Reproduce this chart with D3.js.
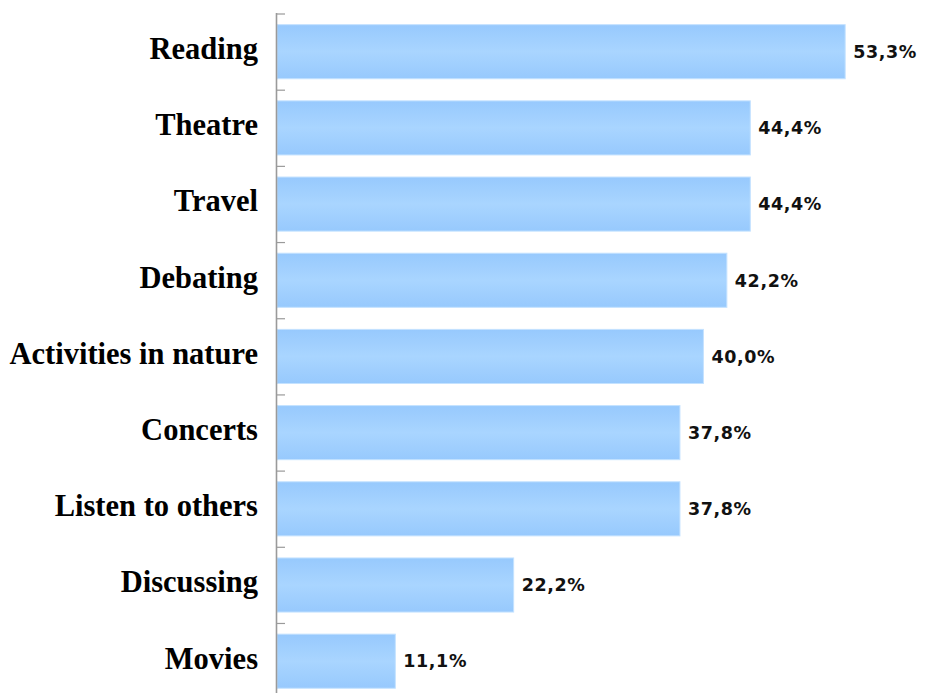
<!DOCTYPE html>
<html>
<head>
<meta charset="utf-8">
<script src="https://cdn.jsdelivr.net/npm/d3@7"></script>
<style>
  html, body { margin: 0; padding: 0; background: #fff; }
  svg { display: block; }
</style>
</head>
<body>
<svg id="chart" width="925" height="693"></svg>
<script>
// Share of respondents naming each activity
const categories = ["Reading", "Theatre", "Travel", "Debating", "Activities in nature",
                    "Concerts", "Listen to others", "Discussing", "Movies"];
const values = [53.3, 44.4, 44.4, 42.2, 40.0, 37.8, 37.8, 22.2, 11.1];
const valueLabels = ["53,3%", "44,4%", "44,4%", "42,2%", "40,0%", "37,8%", "37,8%", "22,2%", "11,1%"];

const svg = d3.select("#chart");
const axisX = 277;
const axisTop = 14;
const step = 76.1;

const x = d3.scaleLinear().domain([0, 10]).range([axisX, axisX + 106.6]);
const y = d3.scaleBand()
  .domain(categories)
  .range([axisTop, axisTop + step * categories.length])
  .paddingInner(0.29)
  .paddingOuter(0.14);

// Vertical gradient for the bars
const defs = svg.append("defs");
const grad = defs.append("linearGradient")
  .attr("id", "barGrad").attr("x1", 0).attr("y1", 0).attr("x2", 0).attr("y2", 1);
grad.append("stop").attr("offset", "0%").attr("stop-color", "#97c9fd");
grad.append("stop").attr("offset", "50%").attr("stop-color", "#a9d5ff");
grad.append("stop").attr("offset", "100%").attr("stop-color", "#97c9fd");

// Bars
svg.append("g").selectAll("rect")
  .data(values)
  .join("rect")
  .attr("x", x(0))
  .attr("y", (d, i) => y(categories[i]))
  .attr("width", d => x(d) - x(0))
  .attr("height", y.bandwidth())
  .attr("fill", "url(#barGrad)")
  .attr("stroke", "#c4e2ff")
  .attr("stroke-width", 1);

// Value labels
svg.append("g").selectAll("text")
  .data(values)
  .join("text")
  .attr("x", d => x(d) + 8)
  .attr("y", (d, i) => y(categories[i]) + y.bandwidth() / 2)
  .attr("dy", "0.36em")
  .attr("font-family", "DejaVu Sans, sans-serif")
  .attr("font-weight", "bold")
  .attr("font-size", 17.5)
  .attr("letter-spacing", 0.6)
  .attr("fill", "#111")
  .text((d, i) => valueLabels[i]);

// Category axis: line with ticks between bands, pointing into the plot
const axis = svg.append("g");
axis.append("line")
  .attr("x1", axisX - 0.5).attr("x2", axisX - 0.5)
  .attr("y1", axisTop - 1).attr("y2", 693)
  .attr("stroke", "#9a9a9a").attr("stroke-width", 1.6);
axis.selectAll("line.tick")
  .data(categories)
  .join("line")
  .attr("class", "tick")
  .attr("x1", axisX - 0.5).attr("x2", axisX + 8)
  .attr("y1", d => y(d) - y.step() * y.paddingOuter())
  .attr("y2", d => y(d) - y.step() * y.paddingOuter())
  .attr("stroke", "#9a9a9a").attr("stroke-width", 1.2);

// Category labels
axis.selectAll("text")
  .data(categories)
  .join("text")
  .attr("x", axisX - 19)
  .attr("y", d => y(d) + y.bandwidth() / 2)
  .attr("dy", "0.24em")
  .attr("text-anchor", "end")
  .attr("font-family", "Liberation Serif, Times New Roman, serif")
  .attr("font-weight", "bold")
  .attr("font-size", 30.5)
  .attr("fill", "#000")
  .text(d => d);
</script>
</body>
</html>
